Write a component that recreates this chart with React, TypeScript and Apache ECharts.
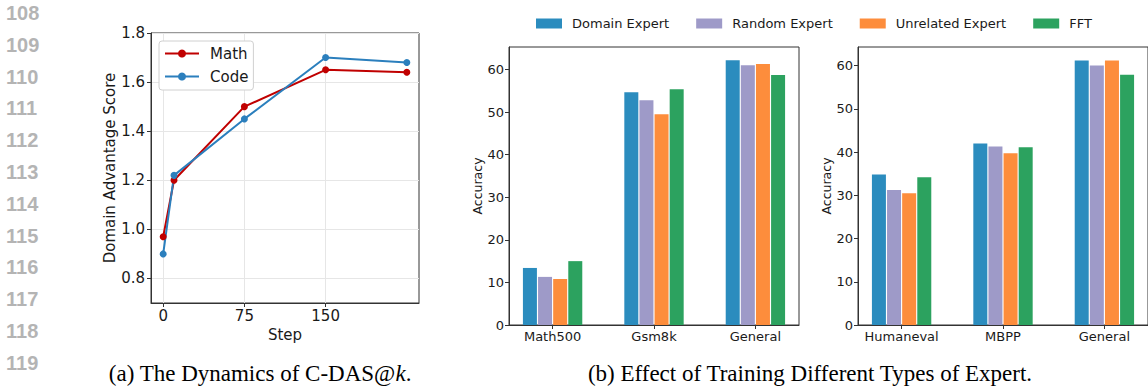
import React, { useEffect, useRef } from "react";
import * as echarts from "echarts";

// ---------- data ----------
const lineNumbers = ["108", "109", "110", "111", "112", "113", "114", "115", "116", "117", "118", "119"];

const steps = [0, 10, 75, 150, 225];
const mathScores = [0.97, 1.2, 1.5, 1.65, 1.64];
const codeScores = [0.9, 1.22, 1.45, 1.7, 1.68];
const stepTicks = [0, 75, 150];
const scoreTicks = [0.8, 1.0, 1.2, 1.4, 1.6, 1.8];

const mathCats = ["Math500", "Gsm8k", "General"];
const codeCats = ["Humaneval", "MBPP", "General"];
const expertNames = ["Domain Expert", "Random Expert", "Unrelated Expert", "FFT"];
const mathDomain = [13.4, 54.7, 62.2];
const mathRandom = [11.3, 52.8, 61.0];
const mathUnrelated = [10.8, 49.5, 61.3];
const mathFFT = [15.0, 55.4, 58.7];
const codeDomain = [34.8, 42.0, 61.2];
const codeRandom = [31.2, 41.3, 60.0];
const codeUnrelated = [30.5, 39.7, 61.2];
const codeFFT = [34.2, 41.1, 57.9];
const accTicks = [0, 10, 20, 30, 40, 50, 60];
const catTicks = [0, 1, 2];

const captionA = "(a) The Dynamics of C-DAS@{k|k}.";
const captionB = "(b) Effect of Training Different Types of Expert.";

// ---------- styles ----------
const expertColors = ["#2b8cbe", "#9e9ac8", "#fd8d3c", "#2ca25f"];
const mathColor = "#c00000";
const codeColor = "#2b7fbd";
const frame = "#333333";
const txt = "#1a1a1a";
const sans = "DejaVu Sans";

export default function App() {
  const ref = useRef<HTMLDivElement>(null);

  useEffect(() => {
    document.body.style.margin = "0";
    const chart = echarts.init(ref.current!, undefined, { renderer: "svg" });

    const mathGroups = [mathDomain, mathRandom, mathUnrelated, mathFFT];
    const codeGroups = [codeDomain, codeRandom, codeUnrelated, codeFFT];

    const barSeries: any[] = [];
    [mathGroups, codeGroups].forEach((groups, gi) => {
      groups.forEach((vals, si) => {
        barSeries.push({
          type: "bar",
          name: expertNames[si],
          xAxisIndex: gi + 1,
          yAxisIndex: gi + 1,
          data: vals.map((v, i) => [i, v]),
          barWidth: 14,
          barGap: "8%",
          itemStyle: { color: expertColors[si] },
        });
      });
    });

    const catAxis = (gridIndex: number, cats: string[]) => ({
      type: "value",
      gridIndex,
      min: -0.43,
      max: 2.43,
      axisLine: { show: true, onZero: false, lineStyle: { color: frame, width: 1 } },
      axisTick: { show: true, customValues: catTicks, length: 4, lineStyle: { color: frame } },
      axisLabel: {
        customValues: catTicks,
        formatter: (v: number) => cats[Math.round(v)],
        fontFamily: sans,
        fontSize: 13,
        color: txt,
        margin: 5,
      },
      splitLine: { show: false },
    });

    const accAxis = (gridIndex: number, max: number) => ({
      type: "value",
      gridIndex,
      min: 0,
      max,
      name: "Accuracy",
      nameLocation: "middle",
      nameGap: 25,
      nameTextStyle: { fontFamily: sans, fontSize: 12.5, color: txt },
      axisLine: { show: true, onZero: false, lineStyle: { color: frame, width: 1 } },
      axisTick: { show: true, customValues: accTicks, length: 4, lineStyle: { color: frame } },
      axisLabel: {
        customValues: accTicks,
        fontFamily: sans,
        fontSize: 13,
        color: txt,
        margin: 5,
      },
      splitLine: { show: false },
    });

    const graphics: any[] = lineNumbers.map((t, i) => ({
      type: "text",
      x: 6,
      y: 13 + i * 31.8,
      style: {
        text: t,
        fontFamily: "Liberation Sans",
        fontWeight: "bold",
        fontSize: 20,
        fill: "#b4b4b4",
        verticalAlign: "middle",
        align: "left",
      },
    }));
    graphics.push({
      type: "text",
      x: 260,
      y: 373,
      style: {
        text: captionA,
        fontFamily: "Liberation Serif",
        fontSize: 23,
        fill: "#000",
        align: "center",
        verticalAlign: "middle",
        rich: { k: { fontFamily: "Liberation Serif", fontStyle: "italic", fontSize: 23 } },
      },
    });
    graphics.push({
      type: "text",
      x: 810,
      y: 373,
      style: {
        text: captionB,
        fontFamily: "Liberation Serif",
        fontSize: 23,
        fill: "#000",
        align: "center",
        verticalAlign: "middle",
      },
    });

    chart.setOption({
      animation: false,
      backgroundColor: "#ffffff",
      textStyle: { fontFamily: sans },
      grid: [
        { left: 151, top: 33, width: 268, height: 270, show: true, borderColor: frame, borderWidth: 1, containLabel: false },
        { left: 509, top: 47, width: 290, height: 278, show: true, borderColor: frame, borderWidth: 1, containLabel: false },
        { left: 858, top: 47, width: 292, height: 278, show: true, borderColor: frame, borderWidth: 1, containLabel: false },
      ],
      legend: [
        {
          data: ["Math", "Code"],
          orient: "vertical",
          left: 159,
          top: 41,
          padding: [5, 5, 6, 5],
          itemWidth: 34,
          itemHeight: 10,
          itemGap: 8,
          backgroundColor: "#ffffff",
          borderColor: "#d0d0d0",
          borderWidth: 1,
          borderRadius: 3,
          textStyle: { fontFamily: sans, fontSize: 15, color: txt, padding: [0, 0, 0, 6] },
        },
        {
          data: expertNames,
          orient: "horizontal",
          left: 536,
          top: 17,
          padding: 0,
          icon: "rect",
          itemWidth: 26,
          itemHeight: 10,
          itemGap: 27,
          textStyle: { fontFamily: sans, fontSize: 13, color: txt, padding: [0, 0, 0, 5] },
        },
      ],
      xAxis: [
        {
          type: "value",
          gridIndex: 0,
          min: -11.25,
          max: 236.25,
          name: "Step",
          nameLocation: "middle",
          nameGap: 22,
          nameTextStyle: { fontFamily: sans, fontSize: 15, color: txt },
          axisLine: { show: true, onZero: false, lineStyle: { color: frame, width: 1 } },
          axisTick: { show: true, customValues: stepTicks, length: 4, lineStyle: { color: frame } },
          axisLabel: { customValues: stepTicks, fontFamily: sans, fontSize: 15, color: txt, margin: 5 },
          splitLine: { show: true, lineStyle: { color: "#e6e6e6", width: 1 } },
        },
        catAxis(1, mathCats),
        catAxis(2, codeCats),
      ],
      yAxis: [
        {
          type: "value",
          gridIndex: 0,
          min: 0.7,
          max: 1.8,
          name: "Domain Advantage Score",
          nameLocation: "middle",
          nameGap: 34,
          nameTextStyle: { fontFamily: sans, fontSize: 15, color: txt },
          axisLine: { show: true, onZero: false, lineStyle: { color: frame, width: 1 } },
          axisTick: { show: true, customValues: scoreTicks, length: 4, lineStyle: { color: frame } },
          axisLabel: {
            customValues: scoreTicks,
            formatter: (v: number) => v.toFixed(1),
            fontFamily: sans,
            fontSize: 15,
            color: txt,
            margin: 6,
          },
          splitLine: { show: true, lineStyle: { color: "#e6e6e6", width: 1 } },
        },
        accAxis(1, 65.3),
        accAxis(2, 64.3),
      ],
      series: [
        {
          type: "line",
          name: "Math",
          xAxisIndex: 0,
          yAxisIndex: 0,
          data: steps.map((s, i) => [s, mathScores[i]]),
          symbol: "circle",
          symbolSize: 7,
          lineStyle: { color: mathColor, width: 2 },
          itemStyle: { color: mathColor },
        },
        {
          type: "line",
          name: "Code",
          xAxisIndex: 0,
          yAxisIndex: 0,
          data: steps.map((s, i) => [s, codeScores[i]]),
          symbol: "circle",
          symbolSize: 7,
          lineStyle: { color: codeColor, width: 2 },
          itemStyle: { color: codeColor },
        },
        ...barSeries,
      ],
      graphic: graphics,
    });

    return () => chart.dispose();
  }, []);

  return (
    <div
      ref={ref}
      style={{ position: "absolute", left: 0, top: 0, width: 1148, height: 387 }}
    />
  );
}
